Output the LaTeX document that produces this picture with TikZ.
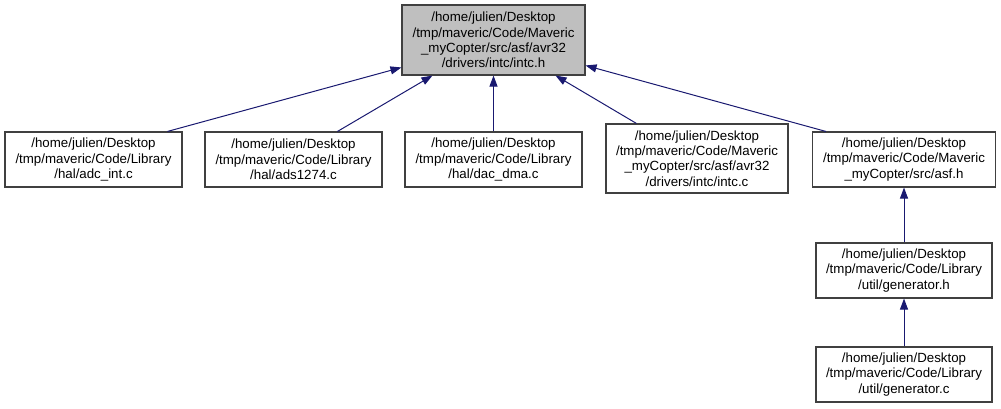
\documentclass[tikz,border=0pt]{standalone}
\usepackage{fontspec}
\setmainfont{Liberation Sans}
\usetikzlibrary{arrows.meta,calc}
\definecolor{edgeblue}{HTML}{191970}
\definecolor{focusgray}{HTML}{BFBFBF}
\definecolor{boxline}{HTML}{404040}
\tikzset{
  filebox/.style={draw=boxline, line width=1.1pt, fill=white, inner sep=0pt,
    align=center, font=\fontsize{13.3}{15.4}\selectfont, text=black},
  focusbox/.style={filebox, fill=focusgray},
  dep/.style={draw=edgeblue, line width=1pt,
    -{Triangle[length=11pt,width=8pt]}, color=edgeblue}
}
\begin{document}
\begin{tikzpicture}[x=1pt,y=-1pt]
\useasboundingbox (0,0) rectangle (1001,408);
\node[focusbox, minimum width=183pt, minimum height=70pt] (top) at (493.5,40)
  {/home/julien/Desktop\\/tmp/maveric/Code/Maveric\\\_myCopter/src/asf/avr32\\/drivers/intc/intc.h};
\node[filebox, minimum width=177pt, minimum height=55pt] (n1) at (93.5,159.5)
  {/home/julien/Desktop\\/tmp/maveric/Code/Library\\/hal/adc\_int.c};
\node[filebox, minimum width=177pt, minimum height=55pt] (n2) at (293.5,159.5)
  {/home/julien/Desktop\\/tmp/maveric/Code/Library\\/hal/ads1274.c};
\node[filebox, minimum width=177pt, minimum height=55pt] (n3) at (493.5,159.5)
  {/home/julien/Desktop\\/tmp/maveric/Code/Library\\/hal/dac\_dma.c};
\node[filebox, minimum width=182pt, minimum height=69pt] (n4) at (697,158.5)
  {/home/julien/Desktop\\/tmp/maveric/Code/Maveric\\\_myCopter/src/asf/avr32\\/drivers/intc/intc.c};
\node[filebox, minimum width=183pt, minimum height=55pt] (n5) at (904,159.5)
  {/home/julien/Desktop\\/tmp/maveric/Code/Maveric\\\_myCopter/src/asf.h};
\node[filebox, minimum width=176pt, minimum height=55pt] (n6) at (904,270.5)
  {/home/julien/Desktop\\/tmp/maveric/Code/Library\\/util/generator.h};
\node[filebox, minimum width=176pt, minimum height=55pt] (n7) at (904,374.5)
  {/home/julien/Desktop\\/tmp/maveric/Code/Library\\/util/generator.c};

\draw[dep] ($(n1.north west)+(163,0)$) -- ($(top.north west)+(0,63)$);
\draw[dep] ($(n2.north west)+(133,0)$) -- ($(top.south west)+(31,0)$);
\draw[dep] (n3.north) -- (top.south);
\draw[dep] ($(n4.north west)+(31,0)$) -- ($(top.south east)+(-30,0)$);
\draw[dep] ($(n5.north west)+(14,0)$) -- ($(top.north east)+(0,61)$);
\draw[dep] (n6.north) -- (n5.south);
\draw[dep] (n7.north) -- (n6.south);
\end{tikzpicture}
\end{document}
